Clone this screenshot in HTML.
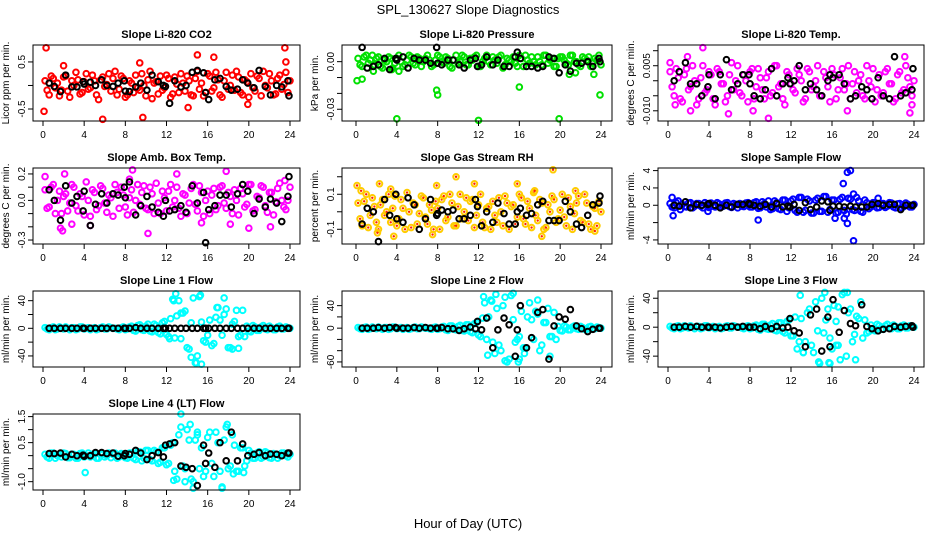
<!DOCTYPE html>
<html><head><meta charset="utf-8"><style>
body{margin:0;background:#fff;}
svg{display:block;font-family:"Liberation Sans",sans-serif;}
</style></head><body>
<svg id="c" width="936" height="540" viewBox="0 0 936 540">
<text x="468" y="14" text-anchor="middle" font-size="13">SPL_130627  Slope Diagnostics</text>
<text x="468" y="528" text-anchor="middle" font-size="13">Hour of Day (UTC)</text>
</svg>
<script>
const HRS=[0.2,0.6,1.0,1.4,1.8,2.2,2.6,3.0,3.4,3.8,4.2,4.6,5.0,5.4,5.8,6.2,6.6,7.0,7.4,7.8,8.2,8.6,9.0,9.4,9.8,10.2,10.6,11.0,11.4,11.8,12.2,12.6,13.0,13.4,13.8,14.2,14.6,15.0,15.4,15.8,16.2,16.6,17.0,17.4,17.8,18.2,18.6,19.0,19.4,19.8,20.2,20.6,21.0,21.4,21.8,22.2,22.6,23.0,23.4,23.8];
const BLK_HRS=[0.6,1.1,1.7,2.2,2.8,3.3,3.9,4.0,4.6,5.1,5.7,6.2,6.8,7.3,7.9,8.0,8.4,9.0,9.5,10.1,10.6,11.2,11.7,11.9,12.3,12.8,13.4,13.9,14.5,15.0,15.6,15.8,16.1,16.7,17.2,17.8,18.3,18.9,19.4,19.9,20.5,21.0,21.6,22.1,22.7,23.2,23.8,23.9];
const X_TICKS=[0,4,8,12,16,20,24];

const co2A=[0.1,-0.2,0.15,0.05,-0.1,0.2,-0.25,0.0,0.12,-0.15,0.25,-0.05,0.1,-0.3,0.18,0.02,-0.12,0.3,-0.08,0.15,-0.2,0.05,0.22,-0.1,0.0,0.12,-0.28,0.08,0.2,-0.05,0.15,-0.18,0.03,0.25,-0.12,0.1,-0.22,0.3,0.05,-0.15,0.2,-0.05,0.12,-0.25,0.28,0.0,-0.1,0.18,-0.2,0.08,0.25,-0.12,0.15,0.3,-0.05,0.1,-0.18,0.22,0.02,-0.15];
const co2B=[-0.1,0.2,-0.05,-0.22,0.18,-0.12,0.1,0.28,-0.18,0.08,-0.08,0.22,-0.2,0.12,-0.02,0.25,0.15,-0.2,0.2,-0.25,0.1,-0.15,-0.05,0.25,-0.22,0.3,0.05,-0.18,-0.1,0.22,-0.25,0.18,-0.15,0.05,0.2,-0.2,0.15,-0.08,-0.22,0.25,-0.12,0.28,-0.2,0.1,-0.08,0.22,0.3,-0.15,0.12,-0.25,-0.05,0.2,-0.22,0.0,0.25,-0.2,0.15,-0.08,0.28,0.1];
const co2OutH=[0.1,0.3,5.8,9.7,15.0,16.6,23.5,23.6,2.0,14.1,19.9,9.4];
const co2OutV=[-0.55,0.8,-0.72,-0.68,0.65,0.6,0.8,0.5,0.42,-0.47,-0.4,0.48];
const co2Blk=[0.05,-0.02,-0.13,0.22,-0.03,-0.03,0.08,0.03,0.07,0.0,0.12,0.0,-0.02,0.05,0.1,-0.12,-0.13,-0.03,0.05,-0.1,0.22,0.08,0.0,-0.02,-0.38,0.1,-0.03,0.0,0.28,0.32,0.27,-0.15,-0.3,0.12,0.15,-0.02,-0.1,-0.08,0.12,0.05,-0.05,0.32,-0.02,-0.2,0.0,-0.03,0.1,-0.22];
const prA=[2,-3,4,1,-2,3,-4,0,2,-1,4,-3,1,3,-2,2,0,4,-3,1,3,-1,2,-4,4,0,3,-2,1,4,-3,2,0,3,-1,4,-2,1,3,-3,2,4,-1,0,3,-2,4,1,-3,2,3,-1,4,0,-2,3,1,-3,2,4];
const prB=[-2,3,-1,4,2,-3,1,3,-4,2,0,-2,4,-1,3,-3,2,1,-2,4,0,3,-3,1,-1,4,-2,2,3,-3,0,4,-2,1,3,-4,2,0,-1,4,-3,1,3,-2,0,4,-1,2,-3,3,1,-2,4,0,-3,2,3,-1,1,-2];
const prOutH=[0.1,0.6,4.0,7.9,8.0,12.0,16.0,19.9,23.3,23.9,21.5,20.9,3.5,4.2,1.7];
const prOutV=[-12,-11,-36,-18,-21,-37,-16,-36,-8,-21,-7,-8,-5,-6,-6];
const prBlk=[9,-4,-3,-2,2,-5,2,1,3,-4,2,1,1,-1,9,-1,-2,1,1,-2,-4,1,2,-3,-2,3,-2,1,-3,-3,3,6,2,-3,-3,-4,-3,3,2,-7,-2,-6,-1,-1,0,-3,2,0];
const tpA=[3,-5,1,-7,4,-2,0,-6,5,-3,2,-8,3,-1,-5,6,0,-4,2,-7,4,-2,1,-6,3,-4,5,-1,-8,2,-3,4,0,-6,3,-2,5,-5,1,-7,2,-3,4,-1,-6,3,0,-5,5,-2,-7,2,-4,4,-1,-6,3,-3,1,-5];
const tpB=[-2,4,-6,2,-3,5,-8,1,-4,3,-6,4,-1,-7,2,-3,5,-5,0,3,-6,4,-3,1,-5,5,-2,-6,3,-1,-4,2,-7,4,-3,0,-5,3,-2,4,-6,1,-3,5,-1,-4,2,-6,0,4,-3,-5,3,-1,-7,2,-4,5,-2,0];
const tpOutH=[0.2,1.9,2.2,3.4,5.9,9.8,23.1,23.6,23.8,17.5,0.7,8.3];
const tpOutV=[6,8,-10,11,-11,-12.5,8,-10.7,-8,-10,-8,-10];
const tpBlk=[0,3,6,-1,-1,-5,-2,2,-6,2,7,-3,-1,2,2,-1,-5,-6,-3,4,-5,-1,1,-1,0,5,-3,-1,-3,-5,0,2,1,2,-1,-6,-5,-2,-3,-6,1,-5,-6,8,-5,-4,-3,4];
const abA=[0.08,-0.05,0.12,0.0,-0.1,0.05,-0.02,0.1,-0.08,0.03,0.14,-0.12,0.06,-0.04,0.09,-0.09,0.02,0.12,-0.06,0.04,-0.11,0.08,0.0,-0.03,0.11,-0.07,0.05,0.13,-0.1,0.02,0.07,-0.05,0.1,-0.12,0.04,-0.02,0.12,-0.08,0.06,0.0,-0.1,0.09,-0.04,0.11,-0.06,0.03,0.08,-0.11,0.05,-0.03,0.12,-0.07,0.02,0.1,-0.09,0.06,-0.01,0.13,-0.05,0.0];
const abB=[-0.06,0.1,-0.1,0.07,0.03,-0.08,0.12,-0.04,0.05,-0.11,0.0,0.08,-0.07,0.11,-0.02,0.04,-0.12,0.06,0.1,-0.05,0.02,-0.09,0.12,0.06,-0.06,0.1,-0.1,-0.02,0.07,-0.08,0.12,0.0,-0.06,0.05,-0.1,0.09,-0.03,0.11,-0.12,0.07,0.04,-0.07,0.1,-0.02,0.06,-0.1,0.0,0.09,-0.05,0.12,-0.08,0.03,0.11,-0.04,0.06,-0.11,0.09,0.0,-0.07,0.1];
const abOutH=[0.2,1.9,2.1,2.8,4.6,8.7,10.2,13.0,15.4,17.8,18.2,20.0,22.1,23.5,8.4,1.7];
const abOutV=[0.18,-0.23,0.2,-0.18,-0.19,0.23,-0.25,0.2,-0.17,0.22,-0.18,-0.21,-0.2,0.15,0.16,-0.21];
const abBlk=[0.08,0.0,-0.15,0.11,-0.02,0.03,-0.08,0.07,-0.19,-0.03,0.05,-0.02,0.05,0.04,0.1,0.02,0.14,-0.11,-0.04,0.03,-0.05,-0.09,-0.12,0.0,-0.08,-0.07,-0.04,-0.09,0.11,-0.02,0.06,-0.32,-0.07,-0.04,0.04,0.04,-0.05,0.05,0.12,0.07,-0.1,0.01,-0.05,0.01,-0.02,-0.16,0.03,0.18];
const rhA=[0.05,-0.08,0.1,-0.02,0.03,-0.1,0.07,0.0,-0.06,0.09,-0.04,0.02,0.11,-0.09,0.04,-0.01,0.08,-0.07,0.01,0.06,-0.1,0.09,-0.03,0.05,-0.08,0.1,0.0,-0.05,0.07,-0.02,0.1,-0.09,0.03,0.06,-0.06,0.0,0.09,-0.1,0.04,-0.03,0.08,-0.07,0.02,0.11,-0.05,0.05,-0.09,0.0,0.07,-0.04,0.1,-0.08,0.03,-0.01,0.09,-0.06,0.05,-0.1,0.02,0.06];
const rhB=[-0.04,0.06,-0.09,0.08,-0.06,0.04,-0.02,0.1,0.02,-0.08,0.07,-0.1,0.0,0.05,-0.07,0.09,-0.03,0.04,-0.1,0.02,0.07,-0.05,0.1,-0.08,0.03,-0.04,0.08,0.06,-0.09,0.04,-0.06,0.02,-0.1,-0.02,0.08,-0.08,0.05,0.03,-0.07,0.1,-0.04,0.06,-0.09,-0.02,0.07,-0.1,0.04,0.09,-0.06,0.01,-0.03,0.08,-0.1,0.05,-0.05,0.1,-0.07,0.03,-0.08,0.0];
const rhOutH=[0.1,0.5,2.3,2.1,3.4,3.7,7.9,9.8,11.6,15.8,17.5,18.2,19.3,23.4,21.5,7.5];
const rhOutV=[0.15,0.12,0.16,-0.12,0.13,-0.14,0.15,0.2,0.16,0.16,0.12,-0.14,0.24,-0.11,0.12,-0.13];
const rhBlk=[-0.07,0.02,0.0,-0.17,0.07,-0.02,0.1,-0.04,-0.06,0.08,0.04,-0.1,-0.04,0.07,-0.02,-0.01,0.01,0.0,0.01,-0.04,-0.04,-0.02,0.07,0.03,-0.08,0.0,-0.06,0.05,-0.01,-0.07,-0.07,0.0,0.02,-0.02,-0.01,0.04,0.06,-0.05,-0.05,-0.05,0.06,0.0,-0.07,-0.09,-0.02,0.04,0.05,0.09];
const sfA=[0.2,-0.3,0.5,0.1,-0.2,0.3,-0.1,0.2,-0.3,0.1,0.25,-0.2,0.15,-0.1,0.3,-0.25,0.1,0.2,-0.15,0.3,-0.2,0.4,-0.3,0.2,0.5,-0.4,0.3,-0.5,0.6,-0.3,0.7,-0.8,0.9,-0.6,0.5,-0.9,0.8,-0.7,1.0,-0.5,0.6,-0.8,0.9,-1.0,0.7,-0.6,0.5,-0.8,0.3,-0.2,0.3,-0.25,0.2,-0.1,0.25,-0.3,0.2,-0.15,0.1,-0.2];
const sfB=[-0.2,0.3,-0.5,-0.15,0.25,-0.3,0.2,-0.1,0.3,-0.25,-0.1,0.3,-0.2,0.25,-0.15,0.2,-0.3,-0.1,0.25,-0.2,0.3,-0.35,0.4,-0.2,-0.5,0.5,-0.4,0.6,-0.7,0.5,-0.6,0.9,-0.8,0.7,-0.9,0.6,-0.7,1.0,-0.8,0.6,-0.9,0.7,-0.6,0.8,-0.5,0.9,-0.7,0.6,-0.4,0.3,-0.3,0.2,-0.25,0.3,-0.2,0.15,-0.3,0.25,-0.2,0.1];
const sfOutH=[0.5,0.4,8.8,17.1,17.5,17.8,18.1,18.1,17.5,16.3,17.2,20.5,3.9];
const sfOutV=[-1.2,0.9,-1.7,2.5,3.8,4.0,1.3,-4.1,-2.1,-1.5,-1.5,0.8,-0.7];
const sfBlk=[0.0,-0.1,0.4,-0.3,0.1,0.0,0.1,0.2,0.0,-0.3,0.0,-0.2,0.1,0.1,0.2,0.1,0.0,-0.1,0.1,-0.2,0.2,-0.2,-0.1,-0.2,0.1,-0.6,0.3,-0.5,-0.2,0.5,0.4,-0.6,-0.1,-0.1,-0.2,-0.1,-0.2,-0.2,-0.2,0.1,0.2,0.0,0.1,0.1,-0.5,0.0,0.0,0.0];
const l1A=[1,-2,2,-1,0,2,-2,1,-1,2,0,-2,1,-1,2,-1,1,0,-2,2,-1,3,-4,5,-3,6,-5,4,-8,10,-12,42,18,-15,25,-30,44,-40,9,-20,12,-22,30,-10,28,-28,10,-12,26,3,-5,2,-3,4,-2,1,-2,3,-1,1];
const l1B=[-1,1,-2,2,-1,0,1,-2,2,-1,1,0,-2,1,-1,2,0,-1,1,-2,2,-3,4,-2,3,-4,6,-6,8,-9,14,-14,40,22,-28,8,-50,46,-18,-10,-25,16,12,20,-28,6,26,-10,-12,-4,4,-3,2,-1,3,-2,2,-1,2,0];
const l1OutH=[12.9,12.7,14.4,14.9,15.4,13.4,17.6,16.9,18.4,19.0,15.3,12.3];
const l1OutV=[50,40,-42,-50,-52,22,44,30,-30,-29,48,-15];
const l1Blk=[0,0,0,0,0,0,0,0,0,0,0,0,0,0,0,0,0,1,0,0,0,0,0,0,0,0,0,0,0,0,0,0,0,0,0,0,0,0,0,0,0,0,0,0,0,0,0,0];
const l2A=[1,-2,2,-1,0,2,-2,1,-1,2,0,-2,1,-1,2,-1,1,0,-2,2,-1,3,-4,4,-3,5,-5,6,-8,10,-15,45,20,-25,35,-40,55,-55,15,-20,30,-35,45,-20,25,-30,10,-15,28,3,-5,2,-3,4,-2,1,-2,3,-1,1];
const l2B=[-1,1,-2,2,-1,0,1,-2,2,-1,1,0,-2,1,-1,2,0,-1,1,-2,2,-3,4,-2,3,-4,6,-6,8,-12,18,-20,50,-45,-30,40,-60,58,-25,-15,-35,20,15,30,-40,10,35,-15,-20,-4,4,-3,2,-1,3,-2,2,-1,2,0];
const l2OutH=[12.5,12.9,13.7,14.6,15.4,15.9,16.5,17.8,19.0,16.0,13.3];
const l2OutV=[56,-48,60,-58,62,-60,-45,50,-50,-55,48];
const l2Blk=[0,0,0,1,0,1,1,0,0,0,1,0,1,0,0,0,1,-1,-1,-4,-1,2,-1,12,-3,18,-35,-3,18,6,-50,-3,40,-35,-17,28,33,-55,4,20,16,33,4,-1,-6,-2,0,0];
const l3A=[1,-2,2,-1,0,2,-2,1,-1,2,0,-2,1,-1,2,-1,1,0,-2,2,-1,3,-4,4,-3,5,-5,6,-8,10,-12,-30,12,-20,25,-35,-5,40,10,-15,30,-25,45,-40,25,-10,12,-15,-8,3,-5,2,-3,4,-2,1,-2,3,-1,1];
const l3B=[-1,1,-2,2,-1,0,1,-2,2,-1,1,0,-2,1,-1,2,0,-1,1,-2,2,-3,4,-2,3,-4,6,-6,8,-12,14,-20,-35,20,-25,35,-50,-8,25,-30,8,-45,48,20,-20,15,35,10,-6,-4,4,-3,2,-1,3,-2,2,-1,2,0];
const l3OutH=[12.9,15.3,15.8,14.7,15.7,16.6,17.5,18.3,13.2,16.4];
const l3OutV=[44,48,-50,-48,-49,28,48,-45,-35,-25];
const l3Blk=[0,0,1,0,1,0,0,0,0,-1,0,1,0,1,0,0,0,-2,1,-2,1,-1,0,12,-5,-8,-27,17,25,-33,14,-27,38,-7,23,5,2,31,1,-2,-5,-3,-2,1,0,1,2,0];
const l4A=[0.05,-0.1,0.1,0.0,-0.05,0.08,-0.08,0.05,-0.1,0.1,0.0,-0.05,0.08,-0.1,0.05,0.0,-0.08,0.1,-0.05,0.05,-0.1,0.1,-0.15,0.15,-0.1,0.2,-0.2,0.15,-0.25,0.3,-0.3,0.5,-0.9,1.1,-0.5,0.6,-1.0,0.8,0.3,-0.6,0.9,-0.8,0.5,-1.2,1.1,-0.4,0.4,-0.6,0.3,-0.2,0.1,-0.1,0.15,-0.05,0.1,-0.1,0.05,0.0,0.1,-0.05];
const l4B=[-0.05,0.1,-0.1,0.05,0.1,-0.08,0.05,-0.1,0.08,-0.05,0.1,0.05,-0.1,0.08,-0.05,0.1,0.05,-0.1,0.08,-0.08,0.1,-0.1,0.15,-0.2,0.2,-0.15,0.2,-0.3,0.3,-0.35,0.4,-0.6,0.8,-0.4,1.0,-0.9,0.6,-0.5,-0.8,0.7,-0.3,0.9,-0.6,0.6,-0.5,0.8,-0.6,0.3,-0.4,0.2,-0.1,0.1,-0.1,0.15,-0.08,0.08,-0.1,0.1,0.0,0.05];
const l4OutH=[4.1,13.4,14.3,12.7,14.6,17.4,15.0,17.9,18.5,19.5,13.8];
const l4OutV=[-0.65,1.6,1.2,-0.95,-1.25,-1.25,0.9,1.2,-0.7,-0.65,-1.0];
const l4Blk=[0.08,0.08,0.1,-0.05,0.05,0.0,0.02,-0.02,0.0,0.12,0.12,0.08,0.1,-0.02,0.0,0.08,0.05,0.2,0.1,-0.15,0.0,0.12,-0.05,0.4,0.45,0.5,-0.4,-0.45,-0.5,-1.15,0.4,-0.3,0.1,-0.45,0.5,-0.2,0.9,-0.2,0.45,0.0,0.05,0.12,0.0,0.06,0.05,0.0,0.1,0.1];

const COLS=[{L:33,R:300,x0:43,x24:290},{L:342,R:612,x0:356,x24:601},{L:658,R:924,x0:668,x24:914}];
const ROWS=[45,168,291,414];
const PH=76;

const panels=[
 {name:'co2',title:'Slope Li-820 CO2',ylab:'Licor ppm per min.',r:0,c:0,ymin:-0.755,ymax:0.86,ticks:[-0.5,0,0.5],labs:['-0.5','','0.5'],col:'#ff0000',A:co2A,B:co2B,oh:co2OutH,ov:co2OutV,blk:co2Blk},
 {name:'pressure',title:'Slope Li-820 Pressure',ylab:'kPa per min.',r:0,c:1,ymin:-37.4,ymax:10.5,ticks:[-30,-20,-10,0],labs:['-0.03','','','0.00'],col:'#00e000',A:prA,B:prB,oh:prOutH,ov:prOutV,blk:prBlk},
 {name:'li820-temp',title:'Slope Li-820 Temp.',ylab:'degrees C per min.',r:0,c:2,ymin:-13.4,ymax:11.9,ticks:[-10,-5,0,5,10],labs:['-0.010','','','0.005',''],col:'#ff00ff',A:tpA,B:tpB,oh:tpOutH,ov:tpOutV,blk:tpBlk},
 {name:'amb-box-temp',title:'Slope Amb. Box Temp.',ylab:'degrees C per min.',r:1,c:0,ymin:-0.33,ymax:0.245,ticks:[-0.3,-0.2,-0.1,0,0.1,0.2],labs:['-0.3','','','0.0','','0.2'],col:'#ff00ff',A:abA,B:abB,oh:abOutH,ov:abOutV,blk:abBlk},
 {name:'gas-stream-rh',title:'Slope Gas Stream RH',ylab:'percent per min.',r:1,c:1,ymin:-0.184,ymax:0.25,ticks:[-0.1,0,0.1,0.2],labs:['-0.1','','0.1',''],col:'#ffcc00',inner:'#ff2000',A:rhA,B:rhB,oh:rhOutH,ov:rhOutV,blk:rhBlk},
 {name:'sample-flow',title:'Slope Sample Flow',ylab:'ml/min per min.',r:1,c:2,ymin:-4.47,ymax:4.3,ticks:[-4,-2,0,2,4],labs:['-4','','0','2','4'],col:'#0000ff',A:sfA,B:sfB,oh:sfOutH,ov:sfOutV,blk:sfBlk},
 {name:'line1-flow',title:'Slope Line 1 Flow',ylab:'ml/min per min.',r:2,c:0,ymin:-56,ymax:54,ticks:[-40,-20,0,20,40],labs:['-40','','0','','40'],col:'#00ffff',A:l1A,B:l1B,oh:l1OutH,ov:l1OutV,blk:l1Blk},
 {name:'line2-flow',title:'Slope Line 2 Flow',ylab:'ml/min per min.',r:2,c:1,ymin:-69,ymax:66,ticks:[-60,-40,-20,0,20,40],labs:['-60','','','0','','40'],col:'#00ffff',A:l2A,B:l2B,oh:l2OutH,ov:l2OutV,blk:l2Blk},
 {name:'line3-flow',title:'Slope Line 3 Flow',ylab:'ml/min per min.',r:2,c:2,ymin:-55,ymax:50,ticks:[-40,-20,0,20,40],labs:['-40','','0','','40'],col:'#00ffff',A:l3A,B:l3B,oh:l3OutH,ov:l3OutV,blk:l3Blk},
 {name:'line4-flow',title:'Slope Line 4 (LT) Flow',ylab:'ml/min per min.',r:3,c:0,ymin:-1.32,ymax:1.6,ticks:[-1,-0.5,0,0.5,1,1.5],labs:['-1.0','','','0.5','','1.5'],col:'#00ffff',A:l4A,B:l4B,oh:l4OutH,ov:l4OutV,blk:l4Blk}
];

const NS='http://www.w3.org/2000/svg';
const svg=document.getElementById('c');
function mk(tag,attrs,parent){const e=document.createElementNS(NS,tag);for(const k in attrs)e.setAttribute(k,attrs[k]);(parent||svg).appendChild(e);return e;}

panels.forEach(p=>{
  const C=COLS[p.c], top=ROWS[p.r], bot=top+PH;
  const xs=h=>C.x0+(C.x24-C.x0)*h/24;
  const ys=v=>bot-(v-p.ymin)/(p.ymax-p.ymin)*PH;
  const g=mk('g',{});
  
  
  const t=mk('text',{x:(C.L+C.R)/2,y:top-7,'text-anchor':'middle','font-size':11,'font-weight':'bold'},g);
  t.textContent=p.title;
  
  
  const yl=mk('text',{x:0,y:0,'text-anchor':'middle','font-size':10,transform:`translate(${C.L-24},${top+PH/2}) rotate(-90)`},g);
  yl.textContent=p.ylab;
  
  
  const pts=mk('g',{fill:'none','stroke-width':2},g);
  
  
  const drawPt=(h,v,col)=>{
    const cx=xs(h),cy=ys(v);
    const c=mk('circle',{cx:cx,cy:cy,r:2.8,stroke:col},pts);
    
    
    if(p.inner&&col!=='#000'){mk('circle',{cx:cx,cy:cy,r:1.2,fill:p.inner,stroke:'none'},pts);}
  };
  const n=Math.min(HRS.length,p.A.length,p.B.length);
  for(let i=0;i<n;i++){drawPt(HRS[i],p.A[i],p.col);drawPt(HRS[i]+0.2,p.B[i],p.col);}
  for(let i=0;i<Math.min(p.oh.length,p.ov.length);i++)drawPt(p.oh[i],p.ov[i],p.col);
  for(let i=0;i<Math.min(BLK_HRS.length,p.blk.length);i++)drawPt(BLK_HRS[i],p.blk[i],'#000');
  const box=mk('rect',{x:C.L,y:top,width:C.R-C.L,height:PH,fill:'none',stroke:'#000','stroke-width':1},g);
  
  
  const xa=mk('g',{stroke:'#000','stroke-width':1},g);
  
  
  mk('line',{x1:xs(0),x2:xs(24),y1:bot,y2:bot},xa);
  X_TICKS.forEach(h=>{
    mk('line',{x1:xs(h),x2:xs(h),y1:bot,y2:bot+5},xa);
    const tl=mk('text',{x:xs(h),y:bot+17,'text-anchor':'middle','font-size':10,stroke:'none',fill:'#000'},xa);
    tl.textContent=String(h);
  });
  const ya=mk('g',{stroke:'#000','stroke-width':1},g);
  
  
  mk('line',{x1:C.L,x2:C.L,y1:ys(p.ticks[0]),y2:ys(p.ticks[p.ticks.length-1])},ya);
  p.ticks.forEach((v,i)=>{
    const y=ys(v);
    mk('line',{x1:C.L-5,x2:C.L,y1:y,y2:y},ya);
    if(p.labs[i]){
      const tl=mk('text',{x:0,y:0,'text-anchor':'middle','font-size':10,stroke:'none',fill:'#000',transform:`translate(${C.L-8},${y}) rotate(-90)`},ya);
      tl.textContent=p.labs[i];
    }
  });
});
</script>
</body></html>
